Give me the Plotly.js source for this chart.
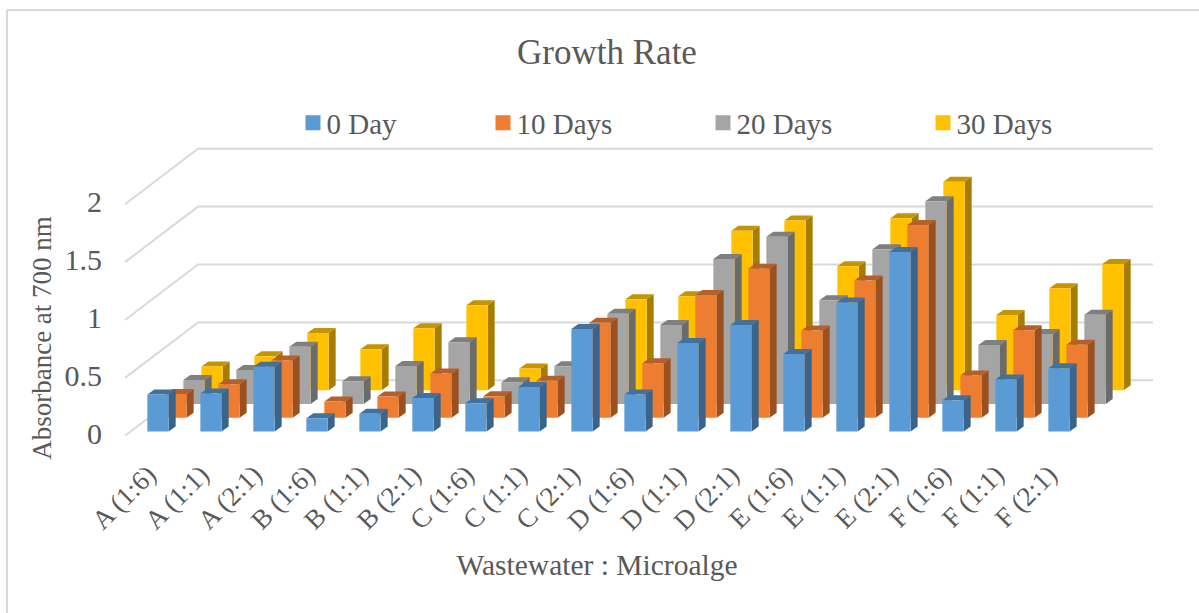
<!DOCTYPE html>
<html><head><meta charset="utf-8">
<script src="https://cdn.plot.ly/plotly-3.0.1.min.js"></script>
<style>html,body{margin:0;padding:0;background:#fff}#chart{width:1199px;height:613px}</style>
</head><body><div id="chart"></div>
<script>
const categories = ["A (1:6)","A (1:1)","A (2:1)","B (1:6)","B (1:1)","B (2:1)","C (1:6)","C (1:1)","C (2:1)","D (1:6)","D (1:1)","D (2:1)","E (1:6)","E (1:1)","E (2:1)","F (1:6)","F (1:1)","F (2:1)"];
const day0  = [0.32,0.33,0.56,0.115,0.155,0.29,0.245,0.385,0.885,0.32,0.765,0.92,0.67,1.115,1.55,0.27,0.45,0.547];
const day10 = [0.205,0.29,0.495,0.14,0.185,0.383,0.187,0.32,0.82,0.47,1.06,1.287,0.754,1.186,1.664,0.365,0.757,0.63];
const day20 = [0.207,0.294,0.495,0.196,0.328,0.533,0.187,0.325,0.78,0.682,1.252,1.445,0.895,1.336,1.75,0.51,0.605,0.77];
const day30 = [0.204,0.294,0.495,0.354,0.535,0.734,0.187,0.33,0.786,0.812,1.376,1.465,1.07,1.485,1.80,0.65,0.88,1.09];
const seriesNames = ["0 Day","10 Days","20 Days","30 Days"];
const seriesValues = [day0,day10,day20,day30];
const frontColors = ["#5B9BD5","#ED7D31","#A5A5A5","#FFC000"];
const sideColors  = ["#3A648A","#9A511F","#6B6B6B","#A67D00"];
const topColors   = ["#41719C","#B5602A","#7F7F7F","#C49500"];
const valueTicks = [0,0.5,1,1.5,2];

// oblique projection, in axis units (one category step horizontally, one absorbance unit vertically)
const PXX = 53, PXY = 115.8;
const rowDx = 18/PXX, rowDy = 13.8/PXY;      // shift between series rows
const barW = 21.3/PXX, capDx = 7/PXX, capDy = 5/PXY; // bar width and bar depth
const lift = 1.9/PXY;
const wallDx = 73/PXX, wallDy = 55.5/PXY;    // depth of the side wall
const xLeftWall = -33/PXX, xRight = 995/PXX;
const labelShift = -10/PXX;
const FONT = '"Liberation Serif","Times New Roman",serif', GREY = '#595959';

const traces = [];
const common = {type:'scatter',mode:'lines',hoverinfo:'skip',showlegend:false,cliponaxis:false};
// gridlines: back wall plus side wall
const gx=[],gy=[];
valueTicks.forEach(v=>{ gx.push(xLeftWall,xLeftWall+wallDx,xRight,null); gy.push(v-0.02,v-0.02+wallDy,v-0.02+wallDy,null); });
traces.push(Object.assign({},common,{x:gx,y:gy,line:{color:'#D9D9D9',width:2}}));

function face(s,color,fn){
  const x=[],y=[];
  seriesValues[s].forEach((v,i)=>{
    const l=i-barW/2+s*rowDx, b=lift+s*rowDy;
    fn(l,b,v).forEach(p=>{x.push(p[0]);y.push(p[1]);});
    x.push(null);y.push(null);
  });
  traces.push(Object.assign({},common,{x,y,fill:'toself',fillcolor:color,line:{width:0,color:color}}));
}
for(let s=3;s>=0;s--){
  face(s,sideColors[s],(l,b,v)=>[[l+barW,b],[l+barW+capDx,b+capDy],[l+barW+capDx,b+v+capDy],[l+barW,b+v],[l+barW,b]]);
  face(s,topColors[s],(l,b,v)=>[[l,b+v],[l+capDx,b+v+capDy],[l+barW+capDx,b+v+capDy],[l+barW,b+v],[l,b+v]]);
  face(s,frontColors[s],(l,b,v)=>[[l,b],[l+barW,b],[l+barW,b+v],[l,b+v],[l,b]]);
}
// legend keys
const legendIds=['legend','legend2','legend3','legend4'];
const legendLeft=[293,483,703,923];
seriesNames.forEach((n,s)=>traces.push({type:'scatter',mode:'markers',x:[null],y:[null],name:n,legend:legendIds[s],
  marker:{symbol:'square',size:15,color:frontColors[s]},hoverinfo:'skip',showlegend:true}));

const W=1199,H=613,L=41,R=1153,T=146,B=530;
const layout={
  width:W,height:H,paper_bgcolor:'#fff',plot_bgcolor:'rgba(0,0,0,0)',showlegend:true,
  margin:{l:L,r:W-R,t:T,b:H-B,pad:0},
  font:{family:FONT,color:GREY,size:26},
  title:{text:'Growth Rate',x:607/W,xref:'container',xanchor:'center',y:1-52/H,yref:'container',yanchor:'middle',font:{family:FONT,size:35,color:GREY}},
  xaxis:{range:[(L-158)/PXX,(R-158)/PXX],anchor:'free',position:(B-436)/(B-T),tickmode:'array',tickvals:categories.map((c,i)=>i+labelShift),ticktext:categories,
    tickangle:-45,ticks:'outside',ticklen:11,tickcolor:'rgba(0,0,0,0)',tickfont:{family:FONT,size:27,color:GREY},showgrid:false,zeroline:false,showline:false,fixedrange:true,
    title:{text:'Wastewater : Microalge',standoff:18,font:{family:FONT,size:29.5,color:GREY}}},
  yaxis:{range:[(433.5-B)/PXY,(433.5-T)/PXY],anchor:'free',position:(125-L)/(R-L),tickmode:'array',tickvals:valueTicks,ticktext:valueTicks.map(String),
    ticks:'outside',ticklen:17,tickcolor:'rgba(0,0,0,0)',tickfont:{family:FONT,size:30,color:GREY},showgrid:false,zeroline:false,showline:false,fixedrange:true,
    title:{text:'Absorbance at 700 nm',standoff:4,font:{family:FONT,size:27,color:GREY}}},
  shapes:[
    {type:'line',xref:'paper',yref:'paper',x0:(7-L)/(R-L),x1:(1199-L)/(R-L),y0:(B-10)/(B-T),y1:(B-10)/(B-T),line:{color:'#D9D9D9',width:2}},
    {type:'line',xref:'paper',yref:'paper',x0:(7-L)/(R-L),x1:(7-L)/(R-L),y0:(B-10)/(B-T),y1:(B-613)/(B-T),line:{color:'#D9D9D9',width:2}}
  ]
};
legendIds.forEach((id,s)=>{layout[id]={x:(legendLeft[s]-L)/(R-L),xanchor:'left',y:(B-123)/(B-T),yanchor:'middle',orientation:'v',bgcolor:'rgba(0,0,0,0)',borderwidth:0,font:{family:FONT,size:29,color:GREY},itemclick:false,itemdoubleclick:false};});

// the legend keys sit closer to their text than Plotly's fixed gap
const chartEl=document.getElementById('chart');
function tightenLegend(){
  legendIds.forEach(id=>chartEl.querySelectorAll('text.'+id+'text').forEach(t=>t.setAttribute('x','33.5')));
}
Plotly.newPlot(chartEl,traces,layout,{displayModeBar:false}).then(tightenLegend);
</script></body></html>
